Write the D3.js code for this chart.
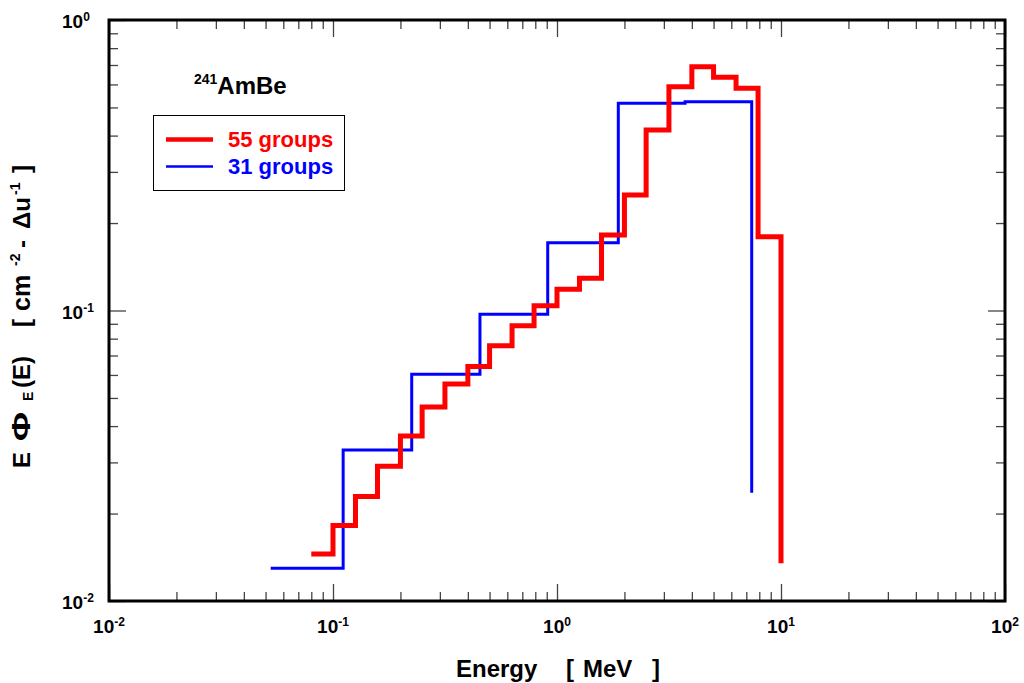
<!DOCTYPE html>
<html>
<head>
<meta charset="utf-8">
<script src="https://cdn.jsdelivr.net/npm/d3@7"></script>
<style>
  html, body { margin: 0; padding: 0; background: #fff; }
  svg text { font-family: "Liberation Sans", Arial, Helvetica, sans-serif; font-weight: bold; white-space: pre; }
</style>
</head>
<body>
<svg id="chart" width="1024" height="683"></svg>
<script>
// 241AmBe neutron spectrum, lethargy representation E·Φ_E(E)
// Group boundaries in MeV and group values (per unit lethargy)
const groups55Edges = [0.08, 0.1, 0.126, 0.158, 0.2, 0.25, 0.316, 0.4, 0.5, 0.63, 0.79,
                       1.0, 1.26, 1.58, 2.0, 2.5, 3.16, 4.0, 5.0, 6.3, 7.9, 10.0];
const groups55Values = [0.0145, 0.0182, 0.0229, 0.0291, 0.0370, 0.0465, 0.0558, 0.0641,
                        0.0756, 0.0887, 0.1039, 0.1183, 0.129, 0.182, 0.250, 0.418,
                        0.589, 0.691, 0.635, 0.582, 0.1795];
const groups55Tail = 0.0135;

const groups31Edges = [0.0527, 0.111, 0.2246, 0.453, 0.909, 1.878, 3.73, 7.4];
const groups31Values = [0.01296, 0.0331, 0.0603, 0.097, 0.171, 0.5166, 0.5234];
const groups31Tail = 0.0236;

const seriesNames = ["55 groups", "31 groups"];
const seriesColors = ["#ff0000", "#0000ff"];

const xDecades = [-2, -1, 0, 1, 2];
const yDecades = [-2, -1, 0];

const svg = d3.select("#chart");
const plotLeft = 109, plotRight = 1005, plotTop = 20, plotBottom = 601;

const x = d3.scaleLog().domain([1e-2, 1e2]).range([plotLeft, plotRight]);
const y = d3.scaleLog().domain([1e-2, 1]).range([plotBottom, plotTop]);

// tick positions: decades and 2..9 subdivisions
function minorTicks(lo, hi) {
  const out = [];
  for (let d = lo; d < hi; d++) for (let m = 2; m <= 9; m++) out.push(m * Math.pow(10, d));
  return out;
}
const xMajor = xDecades.map(d => Math.pow(10, d));
const yMajor = yDecades.map(d => Math.pow(10, d));
const xMinor = minorTicks(-2, 2);
const yMinor = minorTicks(-2, 0);

function tickAxis(axisFn, scale, values, size, transform) {
  const g = svg.append("g").attr("transform", transform)
    .call(axisFn(scale).tickValues(values).tickSize(size).tickFormat(""));
  g.select(".domain").remove();
  g.selectAll(".tick line").attr("stroke", "#444").attr("stroke-width", 1.3);
  return g;
}
// inward ticks on all four sides
tickAxis(d3.axisBottom, x, xMinor, -9, `translate(0,${plotBottom})`);
tickAxis(d3.axisBottom, x, xMajor, -17, `translate(0,${plotBottom})`);
tickAxis(d3.axisTop, x, xMinor, -9, `translate(0,${plotTop})`);
tickAxis(d3.axisTop, x, xMajor, -17, `translate(0,${plotTop})`);
tickAxis(d3.axisLeft, y, yMinor, -9, `translate(${plotLeft},0)`);
tickAxis(d3.axisLeft, y, yMajor, -17, `translate(${plotLeft},0)`);
tickAxis(d3.axisRight, y, yMinor, -9, `translate(${plotRight},0)`);
tickAxis(d3.axisRight, y, yMajor, -17, `translate(${plotRight},0)`);

// step histograms
function stepPoints(edges, values, tail) {
  const pts = values.map((v, i) => [edges[i], v]);
  pts.push([edges[edges.length - 1], values[values.length - 1]]);
  pts.push([edges[edges.length - 1], tail]);
  return pts;
}
const line = d3.line().x(d => x(d[0])).y(d => y(d[1])).curve(d3.curveStepAfter);

svg.append("path")
  .attr("d", line(stepPoints(groups31Edges, groups31Values, groups31Tail)))
  .attr("fill", "none").attr("stroke", seriesColors[1]).attr("stroke-width", 3)
  .attr("stroke-linejoin", "miter");
svg.append("path")
  .attr("d", line(stepPoints(groups55Edges, groups55Values, groups55Tail)))
  .attr("fill", "none").attr("stroke", seriesColors[0]).attr("stroke-width", 5)
  .attr("stroke-linejoin", "miter");

// frame
svg.append("rect")
  .attr("x", plotLeft).attr("y", plotTop).attr("width", plotRight - plotLeft).attr("height", plotBottom - plotTop)
  .attr("fill", "none").attr("stroke", "#000").attr("stroke-width", 3);

// decade labels
function powerLabel(g, exp, xPos, yPos, anchor) {
  const t = g.append("text").attr("x", xPos).attr("y", yPos)
    .attr("text-anchor", anchor).attr("font-size", 19).attr("fill", "#000");
  t.append("tspan").text("10");
  t.append("tspan").attr("font-size", 12).attr("dy", -7).text(String(exp));
  return t;
}
const labels = svg.append("g");
xDecades.forEach(d => powerLabel(labels, d, x(Math.pow(10, d)), 633, "middle"));
yDecades.forEach(d => powerLabel(labels, d, 62, y(Math.pow(10, d)) + 8, "start"));

// x axis title, pieces spaced out
const xTitle = svg.append("g");
[["Energy", 456], ["[", 566], ["MeV", 583], ["]", 652]].forEach(([s, px]) => {
  xTitle.append("text").attr("x", px).attr("y", 677).attr("font-size", 24).text(s);
});

// y axis title, rotated, pieces placed along the left margin (reading upward)
const yTitleParts = [
  { s: "E",  at: 468, size: 24, base: 30 },
  { s: "Φ",  at: 441, size: 26, base: 30, len: 29 },
  { s: "E",  at: 401, size: 14, base: 33 },
  { s: "(E)", at: 388, size: 24, base: 30 },
  { s: "[",  at: 327, size: 24, base: 30 },
  { s: "cm", at: 311, size: 25, base: 30 },
  { s: "-2", at: 266, size: 14, base: 20 },
  { s: "-",  at: 248, size: 24, base: 30 },
  { s: "Δu", at: 229, size: 24, base: 30 },
  { s: "-1", at: 195, size: 14, base: 20 },
  { s: "]",  at: 173, size: 24, base: 30 }
];
const yTitle = svg.append("g");
yTitleParts.forEach(p => {
  const t = yTitle.append("text")
    .attr("transform", `translate(${p.base},${p.at}) rotate(-90)`)
    .attr("font-size", p.size).text(p.s);
  if (p.len) t.attr("textLength", p.len).attr("lengthAdjust", "spacingAndGlyphs");
});

// source label
const src = svg.append("text").attr("x", 194).attr("y", 94);
src.append("tspan").attr("font-size", 14).attr("dy", -10).text("241");
src.append("tspan").attr("font-size", 24).attr("dy", 10).text("AmBe");

// legend
const legend = svg.append("g");
legend.append("rect").attr("x", 153.5).attr("y", 115.5).attr("width", 191).attr("height", 75)
  .attr("fill", "#fff").attr("stroke", "#000").attr("stroke-width", 1);
const legendRows = [
  { name: seriesNames[0], color: seriesColors[0], width: 4.5, yLine: 139.5, yText: 147 },
  { name: seriesNames[1], color: seriesColors[1], width: 2.5, yLine: 166.5, yText: 174 }
];
legendRows.forEach(r => {
  legend.append("line").attr("x1", 166).attr("x2", 213).attr("y1", r.yLine).attr("y2", r.yLine)
    .attr("stroke", r.color).attr("stroke-width", r.width);
  legend.append("text").attr("x", 228).attr("y", r.yText).attr("font-size", 22)
    .attr("fill", r.color).text(r.name);
});
</script>
</body>
</html>
